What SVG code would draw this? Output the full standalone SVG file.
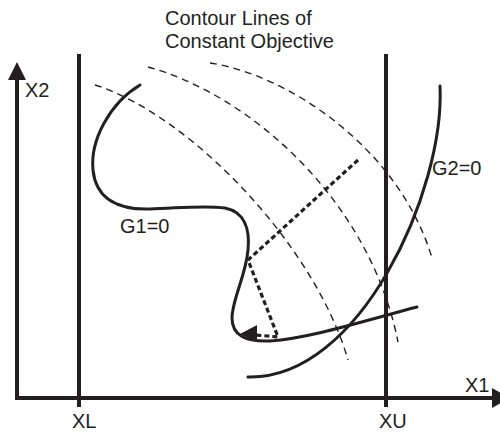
<svg xmlns="http://www.w3.org/2000/svg" width="500" height="435" viewBox="0 0 500 435">
<style>
text{font-family:"Liberation Sans",Arial,sans-serif;font-size:20px;fill:#231f20}
.axis{stroke:#231f20;stroke-width:4;fill:none}
.curve{stroke:#231f20;stroke-width:3;fill:none;stroke-linecap:round}
.contour{stroke:#231f20;stroke-width:1.4;fill:none;stroke-dasharray:7 5}
.path{stroke:#231f20;stroke-width:3.2;fill:none;stroke-dasharray:5 3}
.head{fill:#231f20}
</style>
<rect width="500" height="435" fill="#fff"/>
<g id="axes">
<line class="axis" x1="17" y1="78" x2="17" y2="400"/>
<polygon class="head" points="17,62 8,80 26,80"/>
<line class="axis" x1="15" y1="398" x2="494" y2="398"/>
<polygon class="head" points="492,388 492,408 510,398"/>
<text x="25" y="97">X2</text>
<text x="465" y="392">X1</text>
</g>
<g id="XL">
<line class="axis" x1="79" y1="54" x2="79" y2="407"/>
<text x="72" y="428">XL</text>
</g>
<g id="XU">
<line class="axis" x1="386" y1="54" x2="386" y2="407"/>
<text x="379" y="428">XU</text>
</g>
<g id="contours">
<path class="contour" d="M95,85 C190,115 315,245 348,360"/>
<path class="contour" d="M148,67 C250,95 370,200 398,342"/>
<path class="contour" d="M210,63 C290,75 400,150 432,258"/>
<text x="165" y="25">Contour Lines of</text>
<text x="165" y="48">Constant Objective</text>
</g>
<g id="G1">
<path class="curve" d="M140,85 C110,103 90,140 93,170 C96,200 120,210 150,209 C180,208 205,205 225,208 C245,212 250,230 248,250 C246,275 232,300 232,318 C232,335 245,342 270,341 C310,338 360,322 417,307"/>
<text x="120" y="233">G1=0</text>
</g>
<g id="G2">
<path class="curve" d="M440,86 C445,190 360,380 248,377"/>
<text x="432" y="175">G2=0</text>
</g>
<g id="connectors">
<path class="path" d="M358,160 L248,260 L278,337 L256,335"/>
<polygon class="head" points="240,334 257,325 257,342"/>
</g>
</svg>
